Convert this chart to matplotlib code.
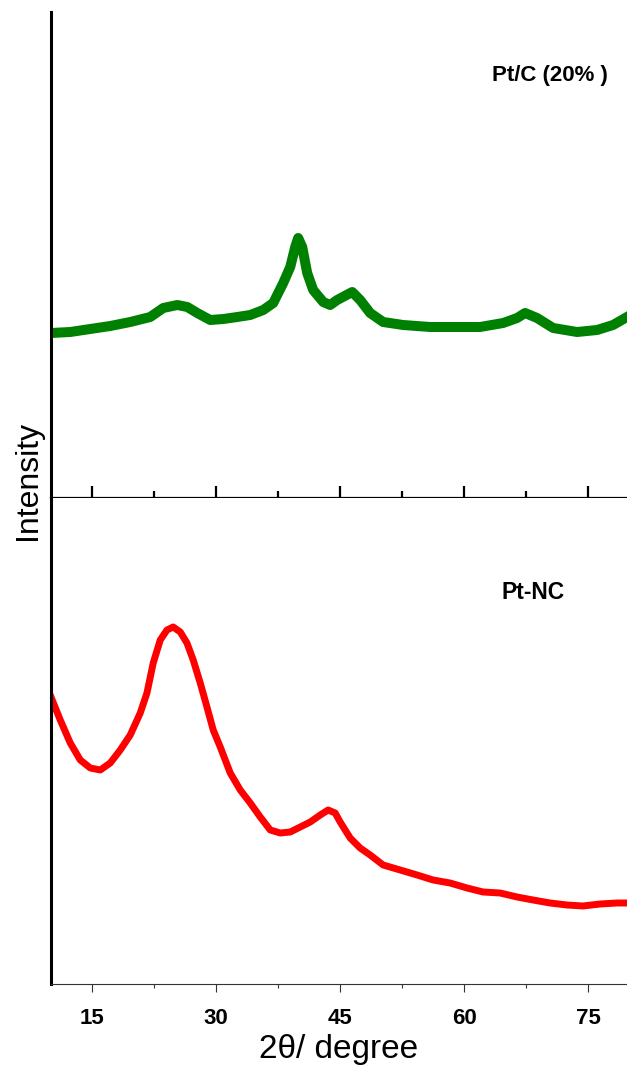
import matplotlib
matplotlib.use("Agg")
import matplotlib.pyplot as plt
from matplotlib.ticker import MultipleLocator

# ---- data (arbitrary intensity units) ----
ptc_x = [10.0, 12.33, 14.75, 17.17, 19.59, 22.01, 23.58, 25.28, 26.49, 27.70,
         29.27, 30.85, 32.54, 34.11, 35.68, 36.89, 38.10, 38.95, 39.55, 39.91,
         40.40, 41.00, 41.73, 42.94, 43.78, 44.63, 46.45, 47.41, 48.62, 50.19,
         52.61, 55.88, 59.14, 61.92, 64.71, 66.40, 67.37, 68.82, 70.76, 73.66,
         76.08, 78.01, 79.70]
ptc_y = [165, 166, 169, 172, 176, 181, 190, 193, 191, 185,
         178, 179, 181, 183, 188, 195, 215, 231, 251, 260,
         251, 225, 208, 196, 193, 198, 206, 198, 185, 176,
         173, 171, 171, 171, 175, 180, 185, 180, 170, 166,
         168, 173, 181]

ptnc_x = [10.0, 11.12, 12.33, 13.54, 14.75, 15.96, 17.17, 18.38, 19.59, 20.80,
          21.61, 22.37, 23.22, 24.03, 24.79, 25.64, 26.45, 27.21, 28.06, 28.87,
          29.63, 30.48, 31.69, 32.90, 34.11, 35.32, 36.53, 37.74, 38.95, 40.16,
          41.37, 42.58, 43.54, 44.39, 44.99, 46.20, 47.41, 48.62, 50.19, 52.25,
          54.30, 56.24, 58.29, 60.35, 62.28, 64.34, 66.40, 68.33, 70.39, 72.44,
          74.38, 76.44, 78.50, 79.70]
ptnc_y = [287, 264, 241, 224, 216, 214, 221, 234, 249, 271,
          291, 321, 344, 354, 357, 352, 341, 324, 301, 277,
          254, 237, 211, 194, 181, 167, 154, 151, 152, 157,
          162, 169, 174, 171, 162, 146, 136, 129, 119, 114,
          109, 104, 101, 96, 92, 91, 87, 84, 81, 79,
          78, 80, 81, 81]

xticks = [15, 30, 45, 60, 75]
labels = ["Pt/C (20% )", "Pt-NC"]

fig = plt.figure(figsize=(6.27, 10.68), dpi=100)
left, right = 51 / 627, 1.0
ax_top = fig.add_axes([left, 1 - 498 / 1068, right - left, 486 / 1068])
ax_bot = fig.add_axes([left, 1 - 984 / 1068, right - left, 486 / 1068])

ax_top.plot(ptc_x, ptc_y, color="#008000", lw=7.2, solid_joinstyle="round")
ax_bot.plot(ptnc_x, ptnc_y, color="#ff0000", lw=5, solid_joinstyle="round")

for ax in (ax_top, ax_bot):
    ax.set_xlim(10, 79.7)
    ax.set_ylim(0, 486)
    ax.set_yticks([])
    ax.spines["top"].set_visible(False)
    ax.spines["right"].set_visible(False)
    ax.spines["left"].set_linewidth(2.2)
    ax.xaxis.set_minor_locator(MultipleLocator(7.5))
    ax.set_xticks(xticks)

# middle axis (bottom spine of top panel)
ax_top.spines["bottom"].set_linewidth(1.6)
ax_top.tick_params(axis="x", which="major", direction="inout", length=18, width=1.6,
                   labelbottom=False)
ax_top.tick_params(axis="x", which="minor", direction="inout", length=10, width=1.6)

# bottom axis
ax_bot.spines["bottom"].set_linewidth(0.8)
ax_bot.spines["bottom"].set_color("#333333")
ax_bot.tick_params(axis="x", which="major", direction="out", length=6, width=0.8,
                   color="#333333", pad=11)
ax_bot.tick_params(axis="x", which="minor", direction="out", length=3, width=0.8,
                   color="#333333")
for lab in ax_bot.get_xticklabels():
    lab.set_family(["Liberation Sans Narrow", "Liberation Sans", "DejaVu Sans"])
    lab.set_fontweight("bold")
    lab.set_fontsize(16)

ax_bot.set_xlabel("2θ/ degree", fontsize=24, family=["Liberation Sans", "DejaVu Sans"], labelpad=4)

fig.text(28 / 627, 1 - 480 / 1068, "Intensity", rotation=90, fontsize=23,
         family=["Liberation Sans", "DejaVu Sans"], ha="center", va="center")

ax_top.text(0.866, 0.870, labels[0], transform=ax_top.transAxes, fontsize=16,
            fontweight="bold", family=["Liberation Sans", "DejaVu Sans"], ha="center", va="center")
ax_bot.text(0.837, 0.805, labels[1], transform=ax_bot.transAxes, fontsize=16.5,
            fontweight="bold", family=["Liberation Sans", "DejaVu Sans"], ha="center", va="center")

fig.savefig("out.png", dpi=100)
